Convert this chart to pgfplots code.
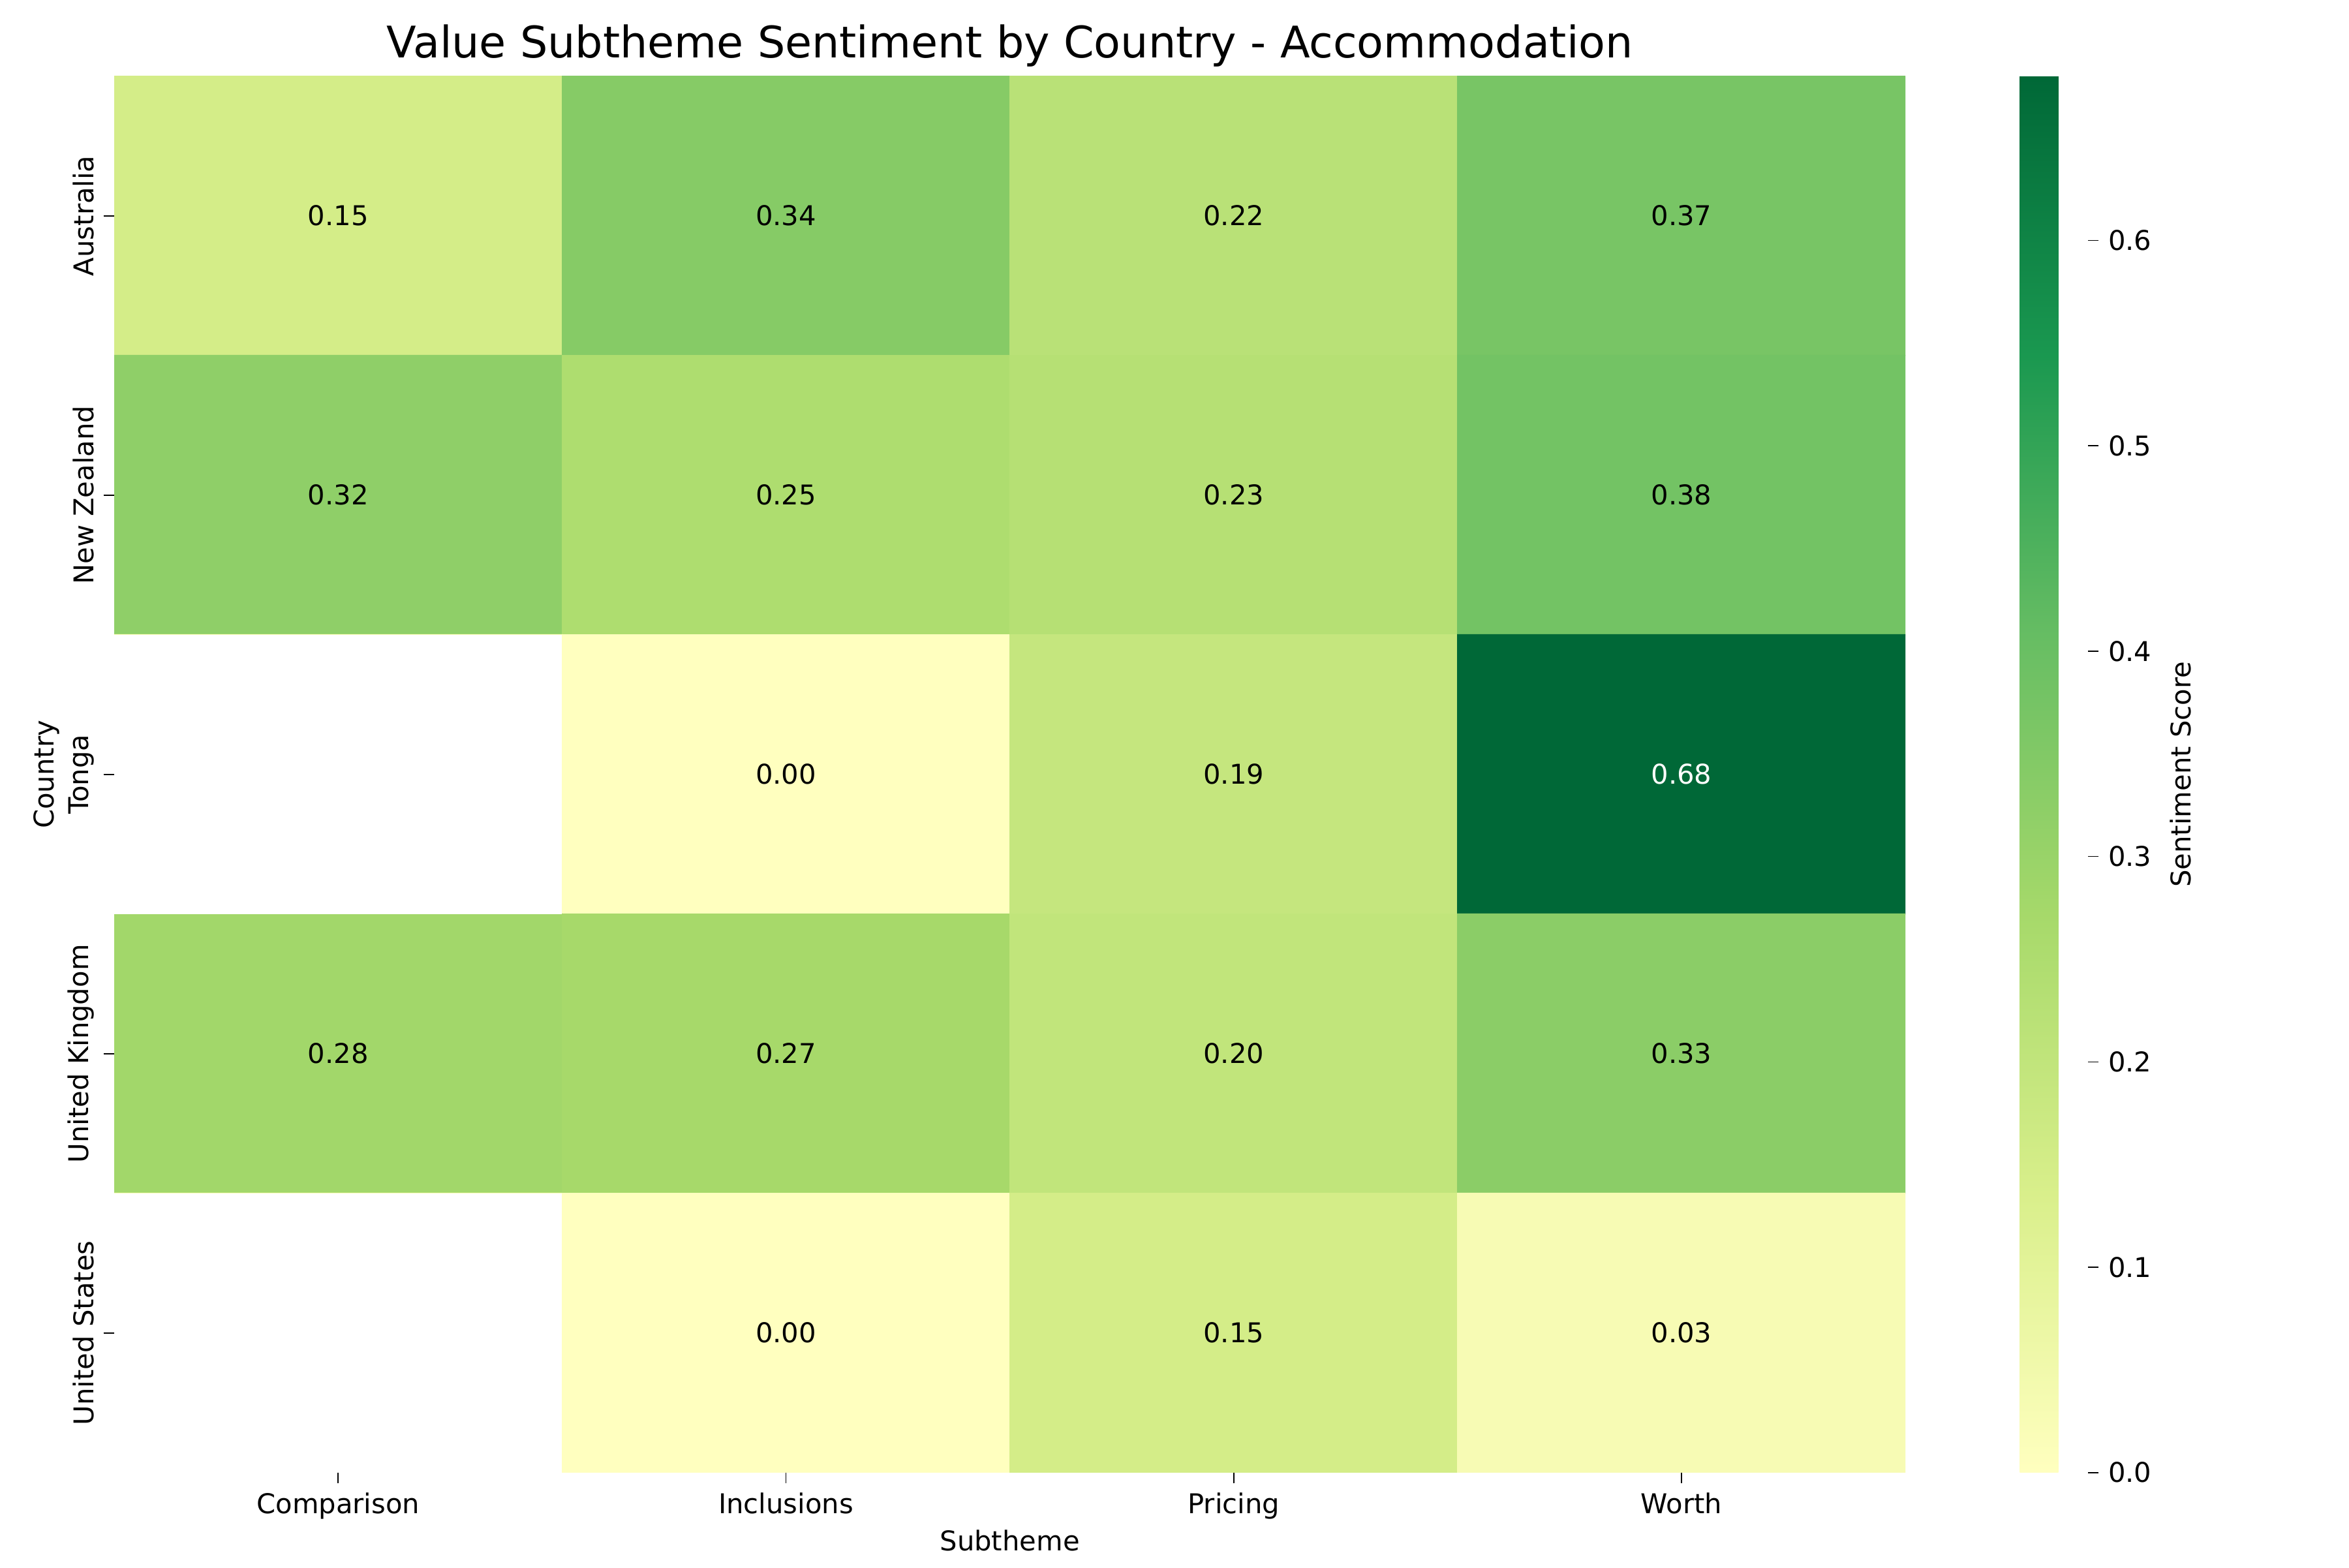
\documentclass[border=0pt]{standalone}
\usepackage{pgfplots}
\pgfplotsset{compat=1.18}
\usepackage{fontspec}
\setmainfont{DejaVu Sans}
\begin{document}
\begin{tikzpicture}
\begin{axis}[
  name=main,
  width=658pt, height=513pt, scale only axis,
  xmin=-0.5, xmax=3.5, ymin=-0.5, ymax=4.5, y dir=reverse,
  enlargelimits=false,
  axis line style={draw=none},
  tick align=outside, tick style={black, thin}, major tick length=4pt,
  xtick={0,1,2,3}, xticklabels={Comparison,Inclusions,Pricing,Worth},
  ytick={0,1,2,3,4}, yticklabels={Australia,New Zealand,Tonga,United Kingdom,United States},
  yticklabel style={rotate=90, anchor=south},
  xtick pos=bottom, ytick pos=left,
  xlabel={Subtheme}, ylabel={Country},
  xlabel style={yshift=3pt}, ylabel style={yshift=-4pt},
  title={Value Subtheme Sentiment by Country - Accommodation},
  title style={font=\fontsize{16}{19}\selectfont, yshift=-6pt},
  tick label style={font=\fontsize{10}{12}\selectfont},
  label style={font=\fontsize{10}{12}\selectfont},
  colormap={rdylgn}{rgb255=(255,255,191) rgb255=(217,239,139) rgb255=(166,217,106) rgb255=(102,189,99) rgb255=(26,152,80) rgb255=(0,104,55)},
  point meta min=0, point meta max=0.68,
  colorbar,
  colorbar shift/.style={xshift=42pt},
  colorbar style={
    width=25pt,
    ytick={0,0.1,0.2,0.3,0.4,0.5,0.6},
    ytick pos=right,
    yticklabel style={/pgf/number format/fixed, /pgf/number format/precision=1, /pgf/number format/fixed zerofill, /pgf/number format/assume math mode=true, font=\fontsize{10}{12}\selectfont},
    ylabel={Sentiment Score}, ylabel style={font=\fontsize{10}{12}\selectfont},
    axis line style={draw=none}, tick align=outside, major tick length=4pt,
    tick style={black, thin},
  },
]
\addplot[matrix plot*, mesh/cols=4, point meta=explicit, draw=none] table[meta=c] {
x y c
0 0 0.15
1 0 0.34
2 0 0.22
3 0 0.37
0 1 0.32
1 1 0.25
2 1 0.23
3 1 0.38
0 2 0
1 2 0.00
2 2 0.19
3 2 0.68
0 3 0.28
1 3 0.27
2 3 0.20
3 3 0.33
0 4 0
1 4 0.00
2 4 0.15
3 4 0.03
};
\addplot[fill=white, draw=none] coordinates {(-0.5,1.5) (0.5,1.5) (0.5,2.5) (-0.5,2.5)} -- cycle;
\addplot[fill=white, draw=none] coordinates {(-0.5,3.5) (0.5,3.5) (0.5,4.5) (-0.5,4.5)} -- cycle;
\foreach \x/\y/\t in {0/0/0.15,1/0/0.34,2/0/0.22,3/0/0.37,0/1/0.32,1/1/0.25,2/1/0.23,3/1/0.38,1/2/0.00,2/2/0.19,0/3/0.28,1/3/0.27,2/3/0.20,3/3/0.33,1/4/0.00,2/4/0.15,3/4/0.03}{
  \edef\tmp{\noexpand\node[font=\noexpand\fontsize{10}{12}\noexpand\selectfont] at (axis cs:\x,\y) {\t};}\tmp
}
\node[font=\fontsize{10}{12}\selectfont, text=white] at (axis cs:3,2) {0.68};
\end{axis}
\path ([shift={(-42pt,-35pt)}]main.south west) rectangle ([shift={(163pt,28pt)}]main.north east);
\end{tikzpicture}
\end{document}
